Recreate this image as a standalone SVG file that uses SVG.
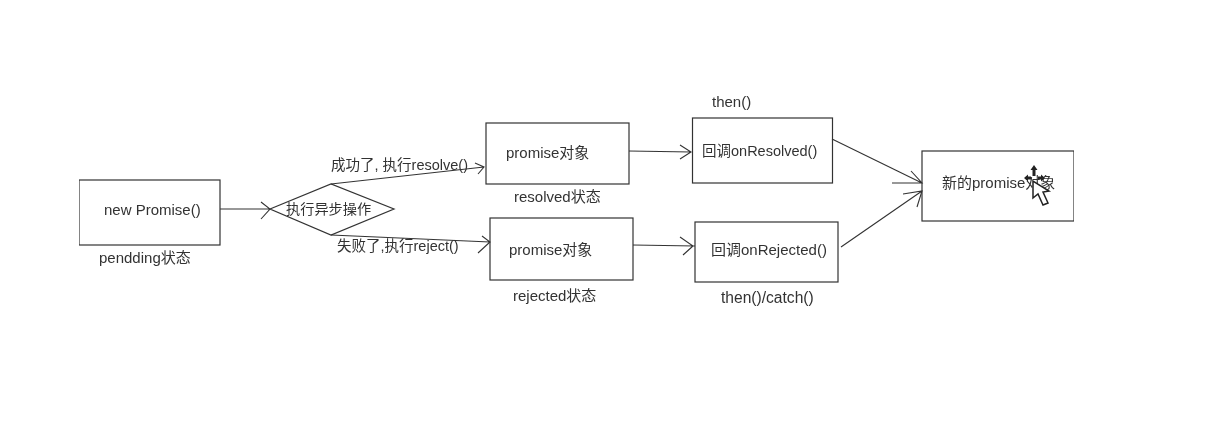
<svg xmlns="http://www.w3.org/2000/svg" width="1210" height="437" viewBox="0 0 1210 437">
<style>
.b{fill:#fff;stroke:#333;stroke-width:1.2}
.c{fill:none;stroke:#333;stroke-width:1.1}
text{font-family:"Liberation Sans","Noto Sans CJK SC",sans-serif;font-size:15px;fill:#333}
.d{font-size:14.200px}
.e{font-size:14.500px}
</style>
<defs><filter id="s" x="0" y="0" width="1" height="1"><feGaussianBlur stdDeviation="0.4"/></filter></defs>
<rect width="1210" height="437" fill="#fff"/>
<g filter="url(#s)">
<g id="new-promise"><rect class="b" x="79" y="180" width="141" height="65"/><text x="104" y="214.500">new Promise()</text><text x="99" y="262.500">pendding状态</text></g>
<g id="async-op"><path class="b" d="M270 209L331 184L394 209L331 235Z"/><text class="d" x="286" y="214">执行异步操作</text></g>
<g id="resolved"><rect class="b" x="486" y="123" width="143" height="61"/><text x="506" y="157.500">promise对象</text><text x="514" y="201.500">resolved状态</text></g>
<g id="rejected"><rect class="b" x="490" y="218" width="143" height="62"/><text x="509" y="254.500">promise对象</text><text x="513" y="300.500">rejected状态</text></g>
<g id="on-resolved"><rect class="b" x="692.500" y="118" width="140" height="65"/><text class="e" x="702" y="155.500">回调onResolved()</text><text x="712" y="106.500">then()</text></g>
<g id="on-rejected"><rect class="b" x="695" y="222" width="143" height="60"/><text x="711" y="254.500">回调onRejected()</text><text x="721" y="302.500" style="font-size:15.600px">then()/catch()</text></g>
<g id="new-promise-object"><rect class="b" x="922" y="151" width="152" height="70"/><text x="942" y="187.500">新的promise对象</text></g>
<g id="connectors">
<path class="c" d="M220 209H270M261 202L270 209L261 219"/>
<path class="c" d="M331 184L484 167M475 163L484 167L478 174"/>
<path class="c" d="M331 235L490 242M482 236L490 242L478 253"/>
<path class="c" d="M629 151L691 152M680 145L691 152L680 159"/>
<path class="c" d="M633 245L695 246M680 237L693 246L683 255"/>
<path class="c" d="M832 139L922 183M911 171L922 183L892 183"/>
<path class="c" d="M841 247L922 191M903 194L922 191L917 207"/>
<text class="e" x="331" y="170">成功了, 执行resolve()</text>
<text class="e" x="337" y="251">失败了,执行reject()</text>
</g>
<path d="M1033 181L1033 198L1038 194L1043 205L1048 203L1043 192L1049 191Z" fill="#fff" stroke="#222" stroke-width="1.500"/>
<path d="M1034 165l3.500 5h-2v6h-3v-6h-2zM1024 178l4-3.500v2h3v3h-3v2zM1045 178l-4-3.500v2h-3v3h3v2z" fill="#222"/>
</g>
</svg>
